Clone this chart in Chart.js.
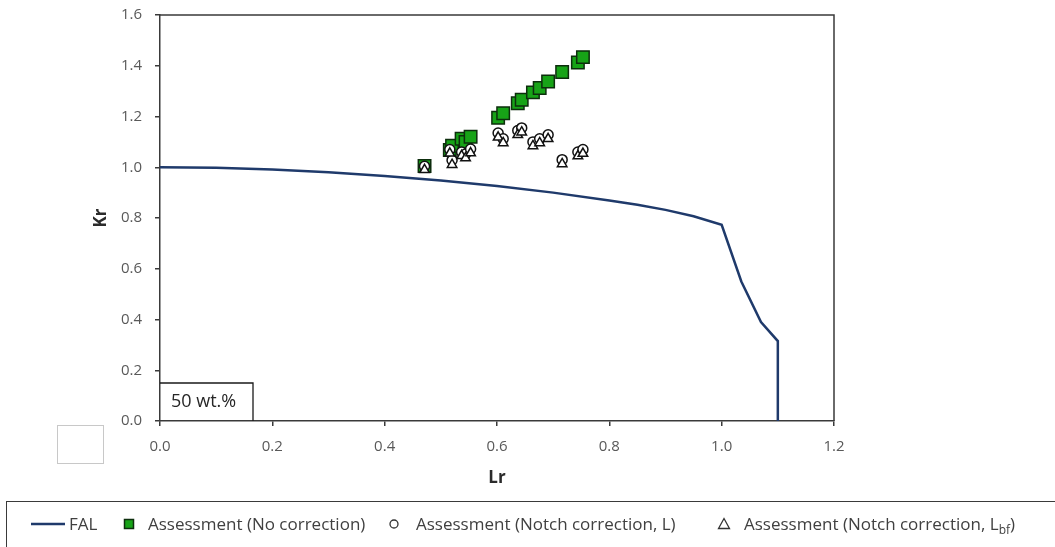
<!DOCTYPE html>
<html>
<head>
<meta charset="utf-8">
<script src="https://cdn.jsdelivr.net/npm/chart.js@4.4.1/dist/chart.umd.min.js"></script>
<style>
  html, body { margin: 0; padding: 0; background: #fff; }
  #wrap { position: relative; width: 1055px; height: 547px; overflow: hidden; background: #fff; }
  #chart { position: absolute; left: 0; top: 0; }
  #legend {
    position: absolute; left: 6px; top: 501px; width: 1120px; height: 70px;
    border-top: 1.5px solid #3a3a3a; border-left: 1.5px solid #3a3a3a;
    font-family: "Open Sans", sans-serif; font-size: 17px; color: #404040;
  }
  #legend .it { position: absolute; top: 9px; height: 26px; line-height: 26px; white-space: nowrap; }
  #legend svg { position: absolute; top: 0; }
  #legend sub { font-size: 12px; vertical-align: -4px; line-height: 0; }
</style>
</head>
<body>
<div id="wrap">
  <canvas id="chart" width="1055" height="547"></canvas>
  <div id="legend"></div>
</div>
<script>
// Failure assessment line (Lr, Kr)
const falLr = [0, 0.1, 0.2, 0.3, 0.4, 0.5, 0.6, 0.7, 0.8, 0.85, 0.9, 0.95, 1.0, 1.035, 1.07, 1.1, 1.1];
const falKr = [1.0, 0.998, 0.991, 0.98, 0.966, 0.948, 0.926, 0.9, 0.869, 0.852, 0.832, 0.807, 0.773, 0.55, 0.39, 0.315, 0];

// Assessment points: shared Lr, three Kr series
const assessLr     = [0.471, 0.516, 0.520, 0.537, 0.544, 0.553, 0.602, 0.611, 0.637, 0.644, 0.664, 0.676, 0.691, 0.716, 0.744, 0.753];
const krNoCorr     = [1.005, 1.068, 1.085, 1.112, 1.100, 1.120, 1.195, 1.213, 1.252, 1.266, 1.295, 1.312, 1.338, 1.375, 1.413, 1.434];
const krNotchL     = [1.004, 1.070, 1.028, 1.060, 1.052, 1.072, 1.135, 1.112, 1.145, 1.155, 1.100, 1.112, 1.128, 1.030, 1.060, 1.070];
const krNotchLbf   = [0.990, 1.055, 1.010, 1.045, 1.036, 1.056, 1.118, 1.096, 1.128, 1.138, 1.084, 1.096, 1.112, 1.013, 1.044, 1.054];

// Axis ticks
const xTicks = [0, 0.2, 0.4, 0.6, 0.8, 1.0, 1.2];
const yTicks = [0, 0.2, 0.4, 0.6, 0.8, 1.0, 1.2, 1.4, 1.6];

const seriesNames = ['FAL', 'Assessment (No correction)', 'Assessment (Notch correction, L)', 'Assessment (Notch correction, L<sub>bf</sub>)'];
const specimenLabel = '50 wt.%';

const pts = (xs, ys) => xs.map((x, i) => ({ x, y: ys[i] }));

const FONT = '"Open Sans", sans-serif';
const AXIS_DARK = '#3a3a3a';
const TICK_TXT = '#595959';

// Frame on top/right, specimen tag and the small grey box at lower left
const framePlugin = {
  id: 'frame',
  afterDraw(chart) {
    const { ctx, chartArea: a } = chart;
    ctx.save();
    ctx.strokeStyle = AXIS_DARK;
    ctx.lineWidth = 1.5;
    ctx.beginPath();
    ctx.moveTo(a.left, a.top);
    ctx.lineTo(a.right, a.top);
    ctx.lineTo(a.right, a.bottom);
    ctx.stroke();

    // specimen tag box in the corner of the plot
    const bw = 93, bh = 38;
    ctx.fillStyle = '#fff';
    ctx.fillRect(a.left + 1, a.bottom - bh, bw - 1, bh - 1);
    ctx.strokeStyle = '#1a1a1a';
    ctx.lineWidth = 1.3;
    ctx.beginPath();
    ctx.moveTo(a.left, a.bottom - bh);
    ctx.lineTo(a.left + bw, a.bottom - bh);
    ctx.lineTo(a.left + bw, a.bottom);
    ctx.stroke();
    ctx.fillStyle = '#262626';
    ctx.font = '18px ' + FONT;
    ctx.textBaseline = 'middle';
    ctx.textAlign = 'left';
    ctx.fillText(specimenLabel, a.left + 11, a.bottom - bh / 2);

    // empty grey box
    ctx.strokeStyle = '#c8c8c8';
    ctx.lineWidth = 1;
    ctx.strokeRect(57.5, 425.5, 46, 38);
    ctx.restore();
  }
};

function build() {
  new Chart(document.getElementById('chart'), {
    type: 'scatter',
    data: {
      datasets: [
        {
          label: 'FAL', data: pts(falLr, falKr), showLine: true,
          borderColor: '#1f3a6b', borderWidth: 2.5, pointRadius: 0, tension: 0, order: 4
        },
        {
          label: 'Assessment (No correction)', data: pts(assessLr, krNoCorr),
          pointStyle: 'rect', pointRadius: 8.8, backgroundColor: '#17a317',
          borderColor: '#0d2e0d', borderWidth: 1.5, order: 3
        },
        {
          label: 'Assessment (Notch correction, L)', data: pts(assessLr, krNotchL),
          pointStyle: 'circle', pointRadius: 5, backgroundColor: '#ffffff',
          borderColor: '#111', borderWidth: 1.5, order: 2
        },
        {
          label: 'Assessment (Notch correction, Lbf)', data: pts(assessLr, krNotchLbf),
          pointStyle: 'triangle', pointRadius: 5.5, backgroundColor: '#ffffff',
          borderColor: '#111', borderWidth: 1.5, order: 1
        }
      ]
    },
    options: {
      responsive: false,
      devicePixelRatio: 1,
      animation: false,
      layout: { padding: { left: 0, right: 221, top: 15, bottom: 0 } },
      plugins: { legend: { display: false }, tooltip: { enabled: false } },
      scales: {
        x: {
          type: 'linear', min: 0, max: 1.2,
          afterBuildTicks: s => { s.ticks = xTicks.map(v => ({ value: v })); },
          afterFit: s => { s.height = 126; s.paddingLeft = 0; s.paddingRight = 0; s.paddingTop = 0; s.paddingBottom = 0; },
          ticks: { color: TICK_TXT, font: { family: FONT, size: 15 }, padding: 12, callback: v => v.toFixed(1) },
          grid: { drawOnChartArea: false, drawTicks: true, tickLength: 5, color: AXIS_DARK, lineWidth: 1.5 },
          border: { display: true, color: AXIS_DARK, width: 1.5 },
          title: { display: true, text: 'Lr', color: '#2b2b2b', font: { family: FONT, size: 17, weight: 'bold' }, padding: { top: 0, bottom: 59 } }
        },
        y: {
          type: 'linear', min: 0, max: 1.6,
          afterBuildTicks: s => { s.ticks = yTicks.map(v => ({ value: v })); },
          afterFit: s => { s.width = 160; s.paddingTop = 0; s.paddingBottom = 0; s.paddingLeft = 0; s.paddingRight = 0; },
          ticks: { color: TICK_TXT, font: { family: FONT, size: 15 }, padding: 13, callback: v => v.toFixed(1) },
          grid: { drawOnChartArea: false, drawTicks: true, tickLength: 5, color: AXIS_DARK, lineWidth: 1.5 },
          border: { display: true, color: AXIS_DARK, width: 1.5 },
          title: { display: true, text: 'Kr', color: '#2b2b2b', font: { family: FONT, size: 17, weight: 'bold' }, padding: { top: 91, bottom: 0 } }
        }
      }
    },
    plugins: [framePlugin]
  });
}

// HTML legend (needs a subscript in the last entry)
function buildLegend() {
  const lg = document.getElementById('legend');
  const items = [
    { mk: '<svg width="34" height="26"><line x1="0" y1="13" x2="34" y2="13" stroke="#1f3a6b" stroke-width="2.5"/></svg>', mkLeft: 24, txtLeft: 62 },
    { mk: '<svg width="12" height="26"><rect x="1.5" y="8.5" width="9" height="9" fill="#17a317" stroke="#0d2e0d" stroke-width="1.5"/></svg>', mkLeft: 116, txtLeft: 141 },
    { mk: '<svg width="12" height="26"><circle cx="6" cy="13" r="4" fill="#fff" stroke="#333" stroke-width="1.3"/></svg>', mkLeft: 381, txtLeft: 409 },
    { mk: '<svg width="14" height="26"><polygon points="7,7.5 12.5,17.5 1.5,17.5" fill="#fff" stroke="#333" stroke-width="1.3"/></svg>', mkLeft: 710, txtLeft: 737 }
  ];
  items.forEach((it, i) => {
    const m = document.createElement('div');
    m.className = 'it';
    m.style.left = it.mkLeft + 'px';
    m.innerHTML = it.mk;
    lg.appendChild(m);
    const t = document.createElement('div');
    t.className = 'it';
    t.style.left = it.txtLeft + 'px';
    t.innerHTML = seriesNames[i];
    lg.appendChild(t);
  });
}

buildLegend();
(document.fonts ? document.fonts.load('15px "Open Sans"').then(() => document.fonts.load('bold 17px "Open Sans"')) : Promise.resolve())
  .catch(() => {})
  .then(build);
</script>
</body>
</html>
